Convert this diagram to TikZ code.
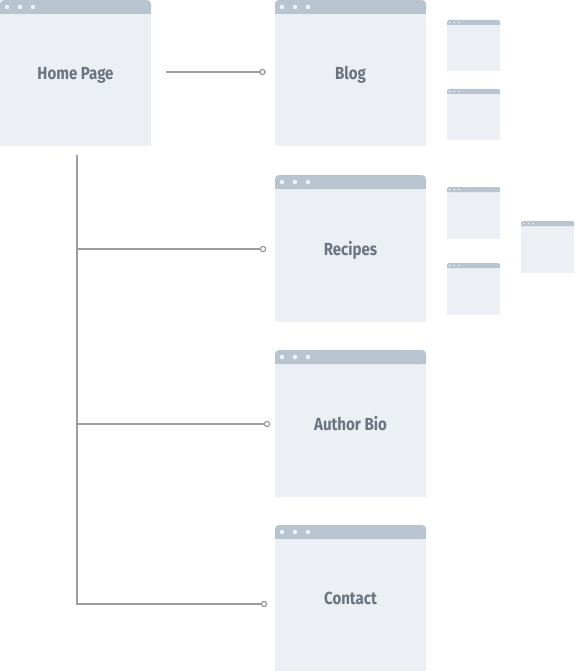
\documentclass[tikz,border=0pt]{standalone}
\usepackage{fontspec}
\setmainfont{Fira Sans}[FakeStretch=0.86]
\usetikzlibrary{arrows.meta,positioning}

\definecolor{pagebar}{HTML}{B8C4D0}
\definecolor{pagebody}{HTML}{ECEFF4}
\definecolor{pagedot}{HTML}{EEF2F6}
\definecolor{pagetext}{HTML}{6B7480}
\definecolor{linkgray}{HTML}{9A9EA3}

% bar height, corner, dot radius, first dot, dot step
\newcommand{\pagedeco}[5]{%
  \fill[pagebody,rounded corners=#2] ([yshift=-10pt]path picture bounding box.south west) rectangle (path picture bounding box.north east);
  \fill[pagebar,rounded corners=#2] ([yshift=-#1]path picture bounding box.north west) rectangle (path picture bounding box.north east);
  \fill[pagebar] ([yshift=-#1]path picture bounding box.north west) rectangle ([yshift=-#1/2]path picture bounding box.north east);
  \foreach \k in {0,1,2}
    \fill[pagedot] ([xshift={(#4+\k*#5)*1pt},yshift=-#1/2]path picture bounding box.north west) circle (#3);
}

\tikzset{
  page/.style={rectangle, inner sep=0pt, minimum width=151pt, minimum height=146pt,
    text=pagetext, font=\bfseries\fontsize{17.5}{19}\selectfont, text depth=0pt,
    path picture={\pagedeco{14pt}{4pt}{2.3pt}{7}{13}}},
  thumb/.style={rectangle, inner sep=0pt, minimum width=53pt, minimum height=51pt,
    path picture={\pagedeco{5pt}{1.5pt}{0.8pt}{2.7}{4.65}}},
  link/.style={draw=linkgray, line width=1.5pt, -{Circle[open,length=6.5pt,line width=1.3pt]}},
}

\begin{document}
\begin{tikzpicture}[x=1pt,y=-1pt]
		\useasboundingbox (0,0) rectangle (574,671);

		\node[page] (home) at (75.5,73) {Home Page};
		\node[page] (blog) at (350.5,73) {Blog};
		\node[page] (recipes) at (350.5,248) {Recipes};
		\node[page] (author) at (350.5,423) {Author Bio};
		\node[page] (contact) at (350.5,598) {Contact};

		% sub pages
		\node[thumb] (blogA) at (473.5,45.5) {};
		\node[thumb] (blogB) at (473.5,114.5) {};
		\node[thumb] (recipeA) at (473.5,212.5) {};
		\node[thumb] (recipeB) at (473.5,288.5) {};
		\node[thumb] (recipeC) at (547.5,246.5) {};

		\draw[link, shorten <=15pt, shorten >=9pt] ([yshift=1pt]home.east) -- ([yshift=1pt]blog.west);
		\draw[link, shorten <=9pt, shorten >=7.5pt] ([xshift=1.5pt]home.south) |- ([yshift=-6pt]contact.west);
		\draw[link, shorten >=8.5pt] ([xshift=1.5pt,yshift=-1pt]home.south |- recipes.west) -- ([yshift=-1pt]recipes.west);
		\draw[link, shorten >=4.5pt] ([xshift=1.5pt,yshift=-1pt]home.south |- author.west) -- ([yshift=-1pt]author.west);
\end{tikzpicture}
\end{document}
